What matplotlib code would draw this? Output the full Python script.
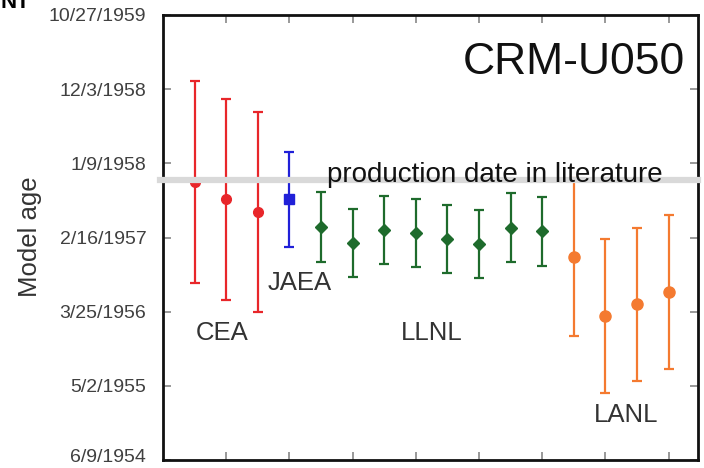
import matplotlib.pyplot as plt
import matplotlib.dates as mdates
import matplotlib.transforms as mtransforms
import numpy as np

plt.rcParams['font.family'] = ['Liberation Sans', 'DejaVu Sans']

# model ages (date of the point) and 1-sigma error in days
labs = ["CEA"] * 3 + ["JAEA"] + ["LLNL"] * 8 + ["LANL"] * 4
ages = ["1957-10-19", "1957-08-03", "1957-06-09",
        "1957-08-03",
        "1957-04-03", "1957-01-24", "1957-03-22", "1957-03-09",
        "1957-02-10", "1957-01-19", "1957-04-01", "1957-03-15",
        "1956-11-22", "1956-03-07", "1956-04-26", "1956-06-20"]
errs = [446, 444, 442,
        210,
        155, 150, 150, 150, 150, 150, 152, 152,
        349, 340, 338, 340]
production_date = "1957-10-28"

y_ticklabels = ["6/9/1954", "5/2/1955", "3/25/1956", "2/16/1957",
                "1/9/1958", "12/3/1958", "10/27/1959"]

lab_style = {
    "CEA": ("#e8262a", "o", 7),
    "JAEA": ("#2020d8", "s", 7),
    "LLNL": ("#1e6b2c", "D", 6),
    "LANL": ("#f47a30", "o", 8),
}

y = mdates.date2num(np.array(ages, dtype="datetime64[D]"))
x = np.arange(1, len(ages) + 1)
labs = np.array(labs)
errs = np.array(errs)

fig = plt.figure(figsize=(7.04, 4.68), dpi=100)
ax = fig.add_axes([163 / 704, 1 - 460 / 468, 535 / 704, 445 / 468])

for lab, (col, mk, ms) in lab_style.items():
    m = labs == lab
    ax.errorbar(x[m], y[m], yerr=errs[m], fmt=mk, color=col, ms=ms,
                elinewidth=1.6, capsize=3.5, capthick=1.6, zorder=3)

# literature production date
yp = mdates.date2num(np.datetime64(production_date))
ax.plot([-0.006, 1.0], [yp, yp], color="#d9d9d9", lw=4.5,
        transform=ax.get_yaxis_transform(), clip_on=False, zorder=5)
ax.text(0.3065, 0.625, "production date in literature", transform=ax.transAxes,
        fontsize=20, color="#111111", va="baseline", ha="left", zorder=6)

ax.text(0.768, 0.894, "CRM-U050", transform=ax.transAxes, fontsize=32,
        ha="center", va="center", color="#111111")
for txt, tx, ty in [("CEA", 0.110, 0.285), ("JAEA", 0.256, 0.398),
                    ("LLNL", 0.503, 0.285), ("LANL", 0.865, 0.101)]:
    ax.text(tx, ty, txt, transform=ax.transAxes, fontsize=18.5,
            ha="center", va="center", color="#333333")

y0 = mdates.date2num(np.datetime64("1954-06-09"))
y1 = mdates.date2num(np.datetime64("1959-10-27"))
ax.set_ylim(y0, y1)
ax.set_yticks(np.linspace(y0, y1, len(y_ticklabels)))
ax.set_yticklabels(y_ticklabels)
ax.set_xlim(0, 16.93)
ax.set_xticks(np.arange(2, 17, 2))
ax.set_xticklabels([])

ax.tick_params(direction="in", length=5.5, width=1.2, color="#888888",
               top=True, right=True, labelsize=14, labelcolor="#404040", pad=12)
for s in ax.spines.values():
    s.set_linewidth(2)
    s.set_color("#111111")

# nudge the bottom date up a little so it stays inside the picture
bottom_lab = ax.get_yticklabels()[0]
bottom_lab.set_transform(bottom_lab.get_transform() +
                         mtransforms.ScaledTranslation(0, 3 / 72, fig.dpi_scale_trans))

ax.set_ylabel("Model age", fontsize=18.5, color="#333333")
ax.yaxis.set_label_coords(-0.226, 0.501)

fig.text(0.0, 1 - 8 / 468, "NT", fontsize=16, fontweight="bold",
         va="baseline", ha="left")

fig.savefig("out.png", dpi=100)
